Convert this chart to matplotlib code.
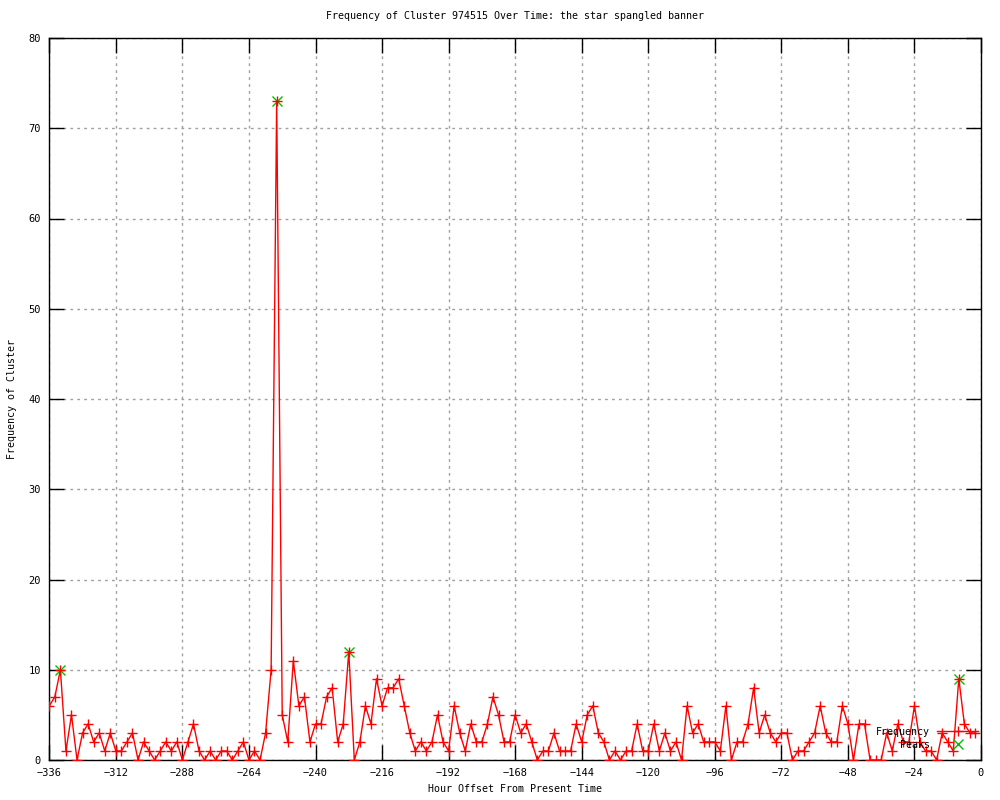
import numpy as np
import matplotlib
matplotlib.use("Agg")
import matplotlib.pyplot as plt

# hourly offsets, one sample every 2 hours
hours = np.arange(-336, 0, 2)
freq = [6, 7, 10, 1, 5, 0, 3, 4, 2, 3, 1, 3, 1, 1, 2, 3, 0, 2, 1, 0,
        1, 2, 1, 2, 0, 2, 4, 1, 0, 1, 0, 1, 1, 0, 1, 2, 0, 1, 0, 3,
        10, 73, 5, 2, 11, 6, 7, 2, 4, 4, 7, 8, 2, 4, 12, 0, 2, 6, 4, 9,
        6, 8, 8, 9, 6, 3, 1, 2, 1, 2, 5, 2, 1, 6, 3, 1, 4, 2, 2, 4,
        7, 5, 2, 2, 5, 3, 4, 2, 0, 1, 1, 3, 1, 1, 1, 4, 2, 5, 6, 3,
        2, 0, 1, 0, 1, 1, 4, 1, 1, 4, 1, 3, 1, 2, 0, 6, 3, 4, 2, 2,
        2, 1, 6, 0, 2, 2, 4, 8, 3, 5, 3, 2, 3, 3, 0, 1, 1, 2, 3, 6,
        3, 2, 2, 6, 4, 0, 4, 4, 0, 0, 0, 3, 1, 4, 2, 2, 6, 2, 1, 1,
        0, 3, 2, 1, 9, 4, 3, 3]
peak_hours = [-332, -254, -228, -8]
peak_vals = [10, 73, 12, 9]

mono = "DejaVu Sans Mono"
plt.rcParams.update({"font.family": mono, "font.size": 7.2})

fig = plt.figure(figsize=(10, 8), dpi=100)
ax = fig.add_axes([0.0493, 0.05, 0.9317, 0.9025])

ax.plot(peak_hours, peak_vals, ls="", marker="x", color="#00c000",
        ms=7, mew=1, zorder=2, label="Peaks")
ax.plot(hours, freq, "-", color="red", lw=1, marker="+", ms=7.5, mew=1,
        zorder=3, label="Frequency")

ax.set_xlim(-336, 0)
ax.set_ylim(0, 80)
ax.set_xticks(np.arange(-336, 1, 24))
ax.set_yticks(np.arange(0, 81, 10))
ax.grid(True, color="#a0a0a0", ls=(0, (2, 3)), lw=1)
ax.tick_params(direction="in", length=11, width=1, top=True, right=True,
               labelsize=7.5, pad=6)
for s in ax.spines.values():
    s.set_linewidth(1)

ax.set_title("Frequency of Cluster 974515 Over Time: the star spangled banner",
             fontsize=7.2, pad=14)
ax.set_xlabel("Hour Offset From Present Time", fontsize=7.2, labelpad=4)
ax.set_ylabel("Frequency of Cluster", fontsize=7.2, labelpad=8)

h, l = ax.get_legend_handles_labels()
ax.legend(h[::-1], l[::-1], loc="lower right", bbox_to_anchor=(1.0, 0.01),
          frameon=False, markerfirst=False, handlelength=4.1,
          labelspacing=0.3, handletextpad=0.7, borderaxespad=0.1,
          borderpad=0.2, fontsize=7.2)

fig.savefig("out.png", dpi=100)
